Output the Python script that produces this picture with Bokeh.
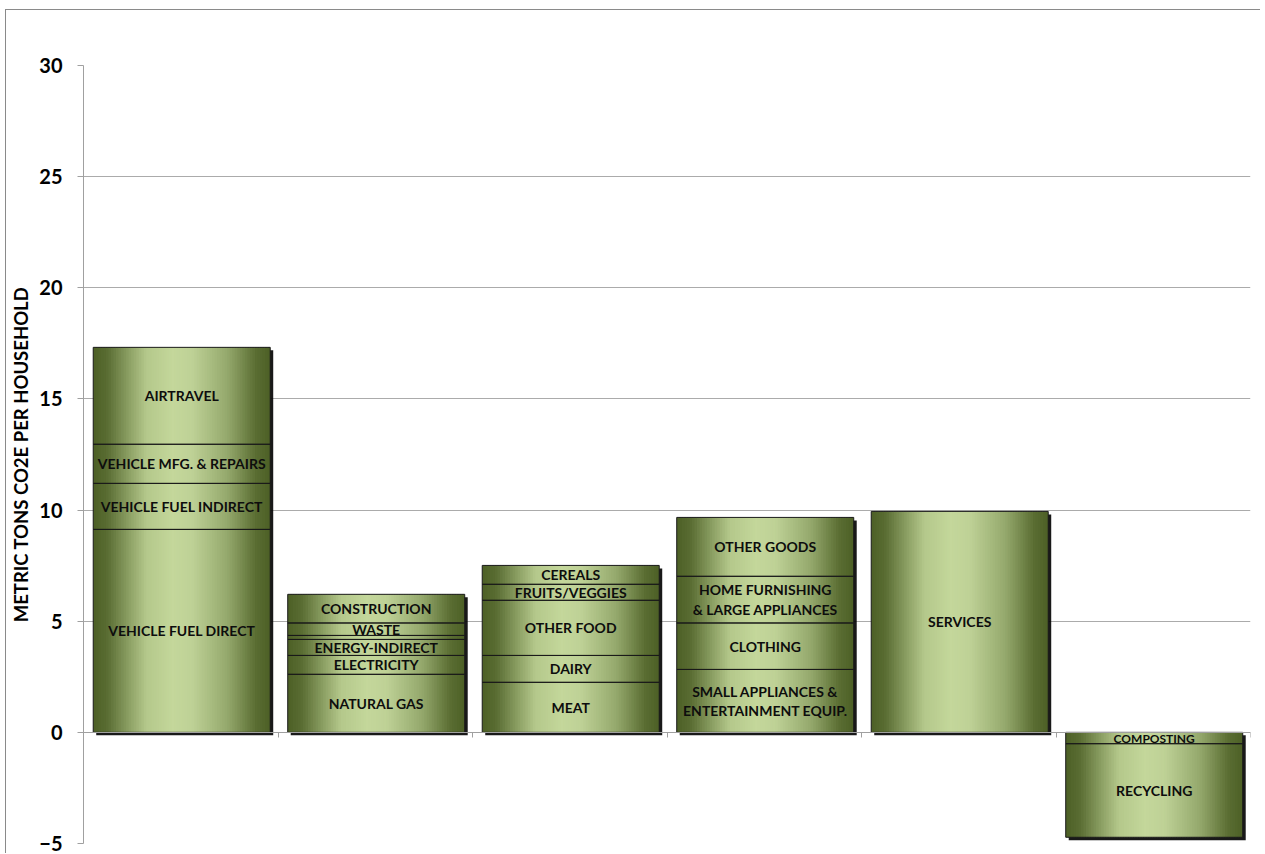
from bokeh.plotting import figure
from bokeh.models import Range1d, FixedTicker, ColumnDataSource
from bokeh.core.properties import value
from bokeh.embed import file_html
from bokeh.resources import INLINE

# ---------------- data ----------------
groups = ["TRANSPORT", "HOUSING", "FOOD", "GOODS", "SERVICES", "WASTE"]

transport_labels = ["VEHICLE FUEL DIRECT", "VEHICLE FUEL INDIRECT", "VEHICLE MFG. & REPAIRS", "AIRTRAVEL"]
transport_values = [9.13, 2.07, 1.76, 4.36]

housing_labels = ["NATURAL GAS", "ELECTRICITY", "ENERGY-INDIRECT", "", "WASTE", "CONSTRUCTION"]
housing_values = [2.61, 0.85, 0.72, 0.18, 0.56, 1.29]

food_labels = ["MEAT", "DAIRY", "OTHER FOOD", "FRUITS/VEGGIES", "CEREALS"]
food_values = [2.25, 1.21, 2.48, 0.72, 0.85]

goods_labels = ["SMALL APPLIANCES &\nENTERTAINMENT EQUIP.", "CLOTHING",
                "HOME FURNISHING\n& LARGE APPLIANCES", "OTHER GOODS"]
goods_values = [2.83, 2.09, 2.10, 2.65]

services_labels = ["SERVICES"]
services_values = [9.94]

waste_labels = ["COMPOSTING", "RECYCLING"]
waste_values = [-0.51, -4.21]

y_ticks = [-5, 0, 5, 10, 15, 20, 25, 30]
y_title = "METRIC TONS CO2E PER HOUSEHOLD"

all_labels = [transport_labels, housing_labels, food_labels, goods_labels, services_labels, waste_labels]
all_values = [transport_values, housing_values, food_values, goods_values, services_values, waste_values]

# ---------------- style ----------------
FONT = "Lato"
BAR_L, BAR_R = 0.05, 0.96
N_STRIPS = 70
stops = [(0.0, (0x4d, 0x60, 0x26)), (0.08, (0x5a, 0x6d, 0x33)), (0.30, (0xb4, 0xc8, 0x8b)),
         (0.45, (0xc4, 0xd7, 0x9b)), (0.56, (0xbe, 0xd1, 0x96)), (0.76, (0x94, 0xa8, 0x6c)),
         (0.92, (0x5a, 0x6d, 0x32)), (1.0, (0x4d, 0x60, 0x26))]


def grad(t):
    for (t0, c0), (t1, c1) in zip(stops[:-1], stops[1:]):
        if t0 <= t <= t1:
            f = (t - t0) / (t1 - t0) if t1 > t0 else 0
            c = [round(a + (b - a) * f) for a, b in zip(c0, c1)]
            return "#%02x%02x%02x" % tuple(c)
    return "#4d6026"


p = figure(frame_width=1167, frame_height=778, output_backend="svg", toolbar_location=None,
           x_range=Range1d(0, len(groups)), y_range=Range1d(-5, 30),
           min_border_left=77, min_border_top=55, min_border_right=10, min_border_bottom=10)
p.margin = (9, 0, 0, 5)
p.styles = {"border-left": "1px solid #8a8a8a", "border-top": "1px solid #8a8a8a"}
p.outline_line_color = None
p.background_fill_color = "white"

sh_l, sh_r, sh_b, sh_t = [], [], [], []
st_l, st_r, st_b, st_t, st_c = [], [], [], [], []
sg_l, sg_r, sg_b, sg_t = [], [], [], []
tx_x, tx_y, tx_t, tx_s = [], [], [], []

dx = 3 / 194.5
dy = 3 / 22.23
for i, (labs, vals) in enumerate(zip(all_labels, all_values)):
    left, right = i + BAR_L, i + BAR_R
    total = sum(vals)
    lo, hi = min(0, total), max(0, total)
    sh_l.append(left + dx); sh_r.append(right + dx); sh_b.append(lo - dy); sh_t.append(hi - dy)
    w = (right - left) / N_STRIPS
    for k in range(N_STRIPS):
        st_l.append(left + k * w)
        st_r.append(left + (k + 1) * w + (w * 0.6 if k < N_STRIPS - 1 else 0))
        st_b.append(lo); st_t.append(hi)
        st_c.append(grad((k + 0.5) / N_STRIPS))
    base = 0.0
    for lab, v in zip(labs, vals):
        b, t = base, base + v
        sg_l.append(left); sg_r.append(right); sg_b.append(min(b, t)); sg_t.append(max(b, t))
        if lab:
            tx_x.append((left + right) / 2); tx_y.append((b + t) / 2); tx_t.append(lab)
            tx_s.append("12px" if lab == "COMPOSTING" else "14px")
        base = t

p.quad(left=sh_l, right=sh_r, bottom=sh_b, top=sh_t, fill_color="black", fill_alpha=0.9, line_color=None)
p.quad(left=st_l, right=st_r, bottom=st_b, top=st_t, fill_color=st_c, line_color=None)
p.quad(left=sg_l, right=sg_r, bottom=sg_b, top=sg_t, fill_color=None, line_color="#1a1a1a", line_width=1)

src = ColumnDataSource(dict(x=tx_x, y=tx_y, t=tx_t, s=tx_s))
p.text(x="x", y="y", text="t", source=src, text_align="center", text_baseline="middle",
       text_font=value(FONT), text_font_style="bold", text_font_size="s", text_color="#0d0d0d",
       text_line_height=1.15)

# axes
p.yaxis.ticker = FixedTicker(ticks=y_ticks)
p.yaxis.axis_label = y_title
p.yaxis.axis_label_text_font = FONT
p.yaxis.axis_label_text_font_style = "bold"
p.yaxis.axis_label_text_font_size = "18.5px"
p.yaxis.axis_label_text_color = "black"
p.yaxis.axis_label_standoff = 4
p.yaxis.major_label_text_font = FONT
p.yaxis.major_label_text_font_style = "bold"
p.yaxis.major_label_text_font_size = "20px"
p.yaxis.major_label_text_color = "black"
p.yaxis.major_label_standoff = 15
p.yaxis.axis_line_color = "#a0a0a0"
p.yaxis.major_tick_line_color = "#a0a0a0"
p.yaxis.major_tick_in = 0
p.yaxis.major_tick_out = 6
p.yaxis.minor_tick_line_color = None

x_ticks = list(range(len(groups) + 1))
p.xaxis.fixed_location = 0
p.xaxis.ticker = FixedTicker(ticks=x_ticks)
p.xaxis.major_label_overrides = {t: "" for t in x_ticks}
p.xaxis.major_label_standoff = 0
p.xaxis.axis_line_color = "#a0a0a0"
p.xaxis.major_tick_line_color = "#a0a0a0"
p.xaxis.major_tick_in = 0
p.xaxis.major_tick_out = 5
p.xaxis.minor_tick_line_color = None

p.xgrid.grid_line_color = None
p.ygrid.ticker = FixedTicker(ticks=y_ticks)
p.ygrid.grid_line_color = "#ababab"
p.ygrid.grid_line_width = 1

open("out.html", "w").write(file_html(p, INLINE))
